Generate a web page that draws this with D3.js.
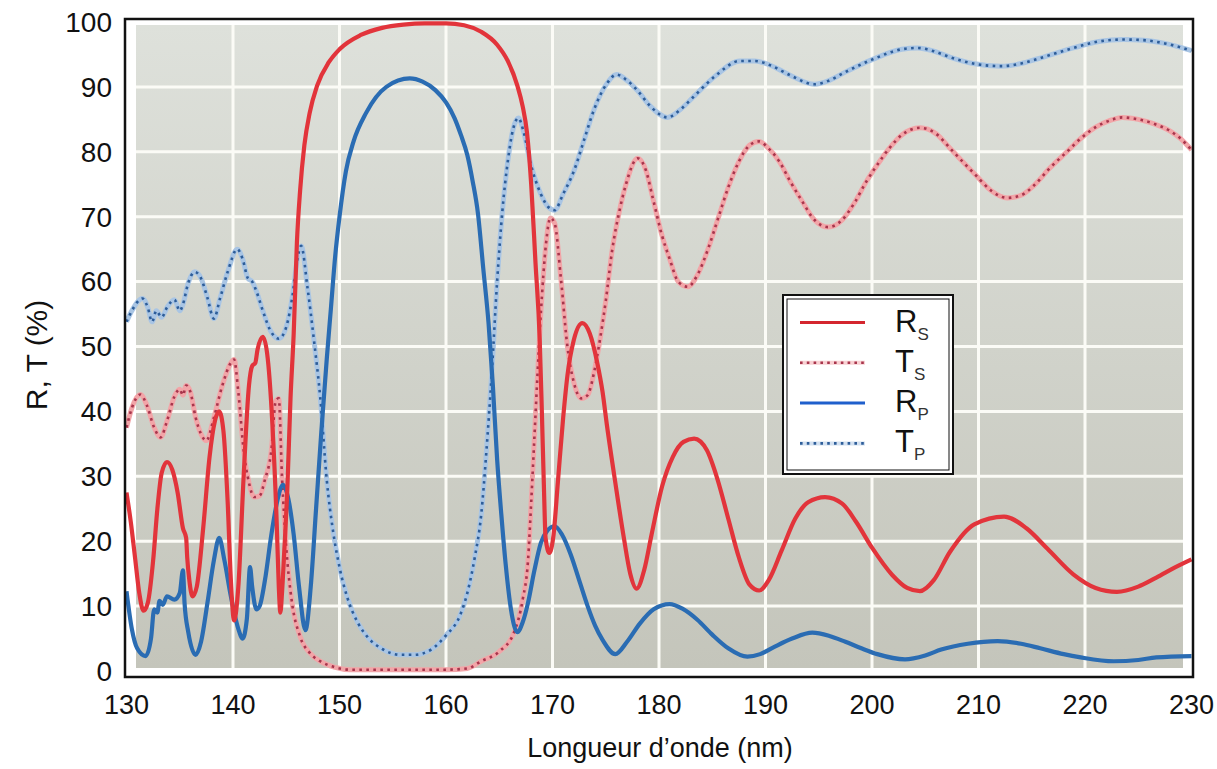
<!DOCTYPE html>
<html>
<head>
<meta charset="utf-8">
<script src="https://cdn.jsdelivr.net/npm/d3@7"></script>
<style>
  body { margin: 0; background: #fff; }
  svg { display: block; font-family: 'Liberation Sans', Arial, sans-serif; }
</style>
</head>
<body>
<svg id="chart"></svg>
<script>
// wavelength (nm), percent
const xTicks = [130, 140, 150, 160, 170, 180, 190, 200, 210, 220, 230];
const yTicks = [0, 10, 20, 30, 40, 50, 60, 70, 80, 90, 100];

const rsPoints = [
  [130.0, 27.5], [130.4, 23], [130.8, 17.5], [131.2, 12], [131.6, 9.3], [132.0, 10.5],
  [132.5, 17], [132.9, 25], [133.3, 30.5], [133.8, 32.2], [134.3, 31], [134.8, 27.5],
  [135.3, 22], [135.6, 20.5], [135.7, 17.5], [135.9, 14], [136.2, 11.5], [136.6, 13],
  [137.2, 22], [137.8, 33], [138.3, 38.5], [138.7, 40], [139.1, 37], [139.5, 26],
  [139.8, 14], [140.1, 7.8], [140.5, 13], [141.0, 30], [141.5, 44], [141.8, 47],
  [142.1, 47.5], [142.3, 49.5], [142.8, 51.5], [143.2, 49], [143.7, 38], [144.1, 23],
  [144.3, 13], [144.45, 9], [144.6, 12], [144.8, 18], [145.1, 28], [145.4, 42],
  [145.7, 52], [146.0, 66], [146.3, 74], [146.7, 81], [147.2, 86], [147.9, 90.2],
  [149.0, 93.8], [150.0, 95.8], [152.0, 98], [154.0, 99.1], [156.0, 99.6], [158.0, 99.8],
  [160.0, 99.8], [161.7, 99.5], [163.3, 98.5], [164.8, 96.5], [165.8, 94], [166.7, 90.2],
  [167.2, 87], [167.6, 83], [168.0, 75], [168.4, 63], [168.8, 51], [169.0, 40],
  [169.2, 28], [169.35, 20.5], [169.7, 18.2], [170.1, 21], [170.5, 29], [171.0, 39],
  [171.4, 45.5], [172.0, 51], [172.8, 53.6], [173.5, 52], [174.2, 47.5], [174.7, 43],
  [175.1, 38], [175.9, 29], [176.7, 20.5], [177.3, 15], [177.9, 12.7], [178.6, 15.5],
  [179.3, 21], [180.3, 28.5], [181.3, 33], [182.3, 35.3], [183.3, 35.8], [184.5, 34],
  [185.5, 29.5], [186.5, 23.5], [187.5, 17.5], [188.5, 13.3], [189.4, 12.4], [190.3, 14],
  [191.5, 18.5], [192.8, 23.5], [194.0, 26], [195.6, 26.8], [197.2, 25.8], [198.5, 23],
  [200.0, 19], [201.9, 14.8], [203.3, 12.8], [204.5, 12.3], [205.8, 14], [207.3, 18.3],
  [209.6, 22.6], [212.4, 23.8], [214.5, 22], [216.5, 18.8], [218.9, 14.9], [221.0, 12.8],
  [223.0, 12.2], [225.0, 13], [226.7, 14.4], [228.5, 16], [230.0, 17.2]
];

const tsPoints = [
  [130.0, 37.5], [130.5, 40.5], [131.3, 42.6], [131.9, 41], [132.6, 37.5], [133.2, 36],
  [133.8, 38.5], [134.5, 42.3], [135.0, 43.4], [135.3, 42.5], [135.6, 44], [136.0, 43],
  [136.5, 39], [137.0, 36.5], [137.5, 35.5], [138.2, 39], [139.0, 44], [139.8, 47.5],
  [140.1, 48], [140.5, 43], [141.0, 34], [141.5, 29], [142.0, 26.8], [142.5, 27],
  [143.0, 29.5], [143.6, 34], [144.0, 41.5], [144.3, 42], [144.6, 30], [145.0, 19],
  [145.5, 11], [146.3, 5.3], [147.2, 2.8], [148.3, 1.4], [149.5, 0.6], [151.0, 0.2],
  [160.0, 0.2], [162.0, 0.4], [163.3, 1.5], [165.0, 3.0], [166.4, 6], [167.2, 11],
  [167.7, 17], [168.0, 26], [168.3, 36], [168.9, 55], [169.4, 66], [169.8, 69.8],
  [170.2, 69], [170.8, 60.3], [171.4, 50], [172.0, 44.5], [172.7, 42], [173.3, 42.5],
  [173.9, 46], [174.5, 51.5], [175.0, 57], [175.6, 64.8], [176.3, 71], [176.9, 75],
  [178.0, 79], [178.8, 77], [179.4, 73], [180.3, 67], [181.0, 63.5], [181.8, 60],
  [182.7, 59.2], [183.6, 61], [184.6, 65], [185.5, 69.5], [186.5, 74.5], [187.5, 78.5],
  [188.5, 81], [189.4, 81.6], [190.3, 80.5], [191.3, 78.5], [192.3, 75.5], [193.4, 72.5],
  [194.6, 69.5], [195.9, 68.4], [197.2, 69.5], [198.3, 72], [199.5, 75.5], [200.5, 78],
  [201.6, 80.5], [202.8, 82.6], [204.5, 83.7], [206.0, 82.8], [207.3, 80.6], [208.5, 78.5],
  [209.8, 76.3], [211.2, 74], [212.7, 72.9], [214.0, 73.3], [215.2, 74.8], [216.7, 77.5],
  [218.3, 80], [219.7, 82.2], [221.0, 83.8], [222.3, 84.8], [223.5, 85.3], [225.0, 85],
  [226.5, 84.3], [228.0, 83.2], [229.0, 82], [230.0, 80.3]
];

const rpPoints = [
  [130.0, 12.3], [130.5, 6.5], [131.0, 3.5], [131.8, 2.3], [132.3, 5], [132.6, 9.5],
  [132.9, 9], [133.1, 10.8], [133.4, 10.2], [133.8, 11.5], [134.5, 11], [135.0, 12],
  [135.3, 15.5], [135.45, 10.5], [135.8, 6], [136.5, 2.5], [137.0, 4.5], [137.6, 10.5],
  [138.2, 17], [138.7, 20.5], [139.2, 17], [139.8, 11.5], [140.5, 6.5], [140.9, 5],
  [141.3, 8], [141.6, 16], [141.8, 13], [142.2, 9.5], [142.5, 10], [143.0, 14],
  [143.6, 21], [144.2, 26.5], [144.7, 28.7], [145.2, 26.5], [145.7, 21], [146.2, 13],
  [146.8, 6.3], [147.3, 13], [147.8, 25], [148.3, 37], [148.8, 48], [149.2, 56],
  [149.6, 64], [150.0, 70], [150.6, 77], [151.3, 81.5], [152.5, 86], [154.4, 90],
  [156.6, 91.3], [157.8, 90.8], [159.0, 89.5], [160.0, 87.6], [160.8, 85.2], [161.4, 82.6],
  [162.0, 79.5], [162.5, 75.5], [163.0, 70.5], [163.5, 62], [164.0, 53.5], [164.4, 44],
  [164.8, 32.6], [165.2, 24], [165.6, 16.5], [166.1, 9.5], [166.7, 6.0], [167.2, 7.5],
  [167.7, 10.5], [168.3, 15.5], [168.9, 19.7], [169.5, 21.6], [170.2, 22.3], [170.9, 21],
  [171.7, 18], [172.6, 13.5], [173.3, 10], [174.0, 7], [174.7, 4.8], [175.9, 2.6],
  [177.0, 4.5], [178.2, 7.3], [179.5, 9.5], [181.0, 10.3], [182.2, 9.6], [183.6, 7.9],
  [185.0, 5.6], [186.5, 3.5], [188.3, 2.2], [189.5, 2.6], [190.7, 3.6], [192.5, 5],
  [194.4, 5.9], [196.0, 5.4], [197.5, 4.5], [199.0, 3.5], [200.5, 2.6], [203.1, 1.8],
  [205.0, 2.4], [206.5, 3.3], [209.0, 4.2], [211.8, 4.6], [214.0, 4.2], [215.8, 3.5],
  [218.0, 2.6], [219.6, 2.1], [222.7, 1.5], [225.0, 1.7], [226.7, 2.1], [230.0, 2.3]
];

const tpPoints = [
  [130.0, 53.8], [130.5, 55.5], [131.5, 57.4], [132.0, 56], [132.4, 53.8], [132.8, 55.5],
  [133.3, 54.5], [133.8, 56], [134.5, 57.2], [135.0, 55.5], [135.3, 56.5], [135.8, 59.8],
  [136.4, 61.5], [137.0, 60.5], [137.6, 57.5], [138.2, 54.3], [138.8, 57.5], [139.5, 61.5],
  [140.4, 65], [140.9, 63.5], [141.4, 60.5], [141.8, 60], [142.2, 58.5], [142.8, 55.5],
  [143.5, 52.5], [144.3, 51.2], [145.0, 53], [145.6, 58], [146.0, 63], [146.4, 65.5],
  [147.0, 59], [147.6, 51], [148.2, 42], [148.8, 29.5], [149.4, 21.5], [150.0, 16],
  [150.7, 11.5], [151.7, 7.5], [152.6, 5.3], [154.0, 3.4], [155.7, 2.5], [157.0, 2.5],
  [158.6, 3.3], [160.0, 5.5], [161.3, 8.5], [162.0, 12], [162.7, 17.5], [163.3, 24],
  [163.8, 34], [164.3, 46], [164.8, 60], [165.3, 71], [165.8, 78.5], [166.3, 83.5],
  [166.8, 85.2], [167.3, 83], [167.9, 78.5], [168.9, 73.5], [169.6, 71.5], [170.2, 71],
  [171.0, 73.5], [172.0, 77], [173.0, 82], [173.9, 86.5], [175.1, 90.5], [176.0, 91.9],
  [177.0, 91], [178.0, 89.4], [179.2, 87], [180.8, 85.3], [182.0, 86.5], [183.2, 88.4],
  [185.3, 91.7], [187.6, 94], [189.0, 94], [190.5, 93.3], [192.3, 91.8], [194.6, 90.4],
  [196.0, 91], [197.4, 92.2], [200.0, 94.2], [202.8, 95.8], [204.3, 96], [205.8, 95.5],
  [207.3, 94.6], [209.5, 93.6], [212.1, 93.2], [214.0, 93.6], [215.5, 94.3], [218.9, 96],
  [221.3, 97], [223.6, 97.3], [225.5, 97.2], [227.5, 96.7], [230.0, 95.6]
];

const seriesKeys = ['Rs', 'Ts', 'Rp', 'Tp'];
const legendMain = ['R', 'T', 'R', 'T'];
const legendSub = ['S', 'S', 'P', 'P'];

class SpectrumChart {
  constructor(id) {
    this.width = 1217;
    this.height = 769;
    this.frame = {left: 125, right: 1193, top: 19, bottom: 677};
    this.svg = d3.select(id)
      .attr('width', this.width)
      .attr('height', this.height);
    this.xScale = d3.scaleLinear().domain([130, 230]).range([126.5, 1191.5]);
    this.yScale = d3.scaleLinear().domain([0, 100]).range([671, 22]);
    this.styles = {
      Rs: {color: '#e2343b', width: 4.2},
      Ts: {under: '#f2a5a8', color: '#a8354c', width: 2.6},
      Rp: {color: '#2a6cb3', width: 4.2},
      Tp: {under: '#a9c5e4', color: '#2d5d99', width: 2.6}
    };

    this.drawBackground();
    this.drawSeries();
    this.drawAxes();
    this.drawLegend();
  }

  drawBackground() {
    const grad = this.svg.append('defs').append('linearGradient')
      .attr('id', 'plotBg')
      .attr('x1', 0).attr('y1', 0).attr('x2', 0).attr('y2', 1);
    grad.append('stop').attr('offset', '0%').attr('stop-color', '#dee1db');
    grad.append('stop').attr('offset', '100%').attr('stop-color', '#c4c5bb');

    this.svg.append('rect')
      .attr('x', 136).attr('y', 25)
      .attr('width', 1183 - 136).attr('height', 668 - 25)
      .attr('fill', 'url(#plotBg)');

    const grid = this.svg.append('g');
    grid.selectAll('.vgrid')
      .data(xTicks.slice(1, -1))
      .enter()
      .append('line')
      .attr('x1', d => this.xScale(d)).attr('x2', d => this.xScale(d))
      .attr('y1', 25).attr('y2', 668)
      .attr('stroke', '#fbfbf6').attr('stroke-width', 3);
    grid.selectAll('.hgrid')
      .data(yTicks.slice(1, -1))
      .enter()
      .append('line')
      .attr('x1', 136).attr('x2', 1183)
      .attr('y1', d => this.yScale(d)).attr('y2', d => this.yScale(d))
      .attr('stroke', '#fbfbf6').attr('stroke-width', 3);
  }

  drawSeries() {
    const line = d3.line()
      .x(d => this.xScale(d[0]))
      .y(d => this.yScale(d[1]))
      .curve(d3.curveMonotoneX);
    const data = {Rs: rsPoints, Ts: tsPoints, Rp: rpPoints, Tp: tpPoints};
    const order = ['Tp', 'Ts', 'Rp', 'Rs'];
    const g = this.svg.append('g');
    order.forEach(key => {
      const st = this.styles[key];
      if (st.under) {
        g.append('path')
          .attr('d', line(data[key]))
          .attr('fill', 'none')
          .attr('stroke', st.under)
          .attr('stroke-width', 5);
        g.append('path')
          .attr('d', line(data[key]))
          .attr('fill', 'none')
          .attr('stroke', st.color)
          .attr('stroke-width', st.width)
          .attr('stroke-dasharray', '2.6,4.4');
      } else {
        g.append('path')
          .attr('d', line(data[key]))
          .attr('fill', 'none')
          .attr('stroke', st.color)
          .attr('stroke-width', st.width)
          .attr('stroke-linejoin', 'round');
      }
    });
  }

  drawAxes() {
    const f = this.frame;
    this.svg.append('rect')
      .attr('x', f.left).attr('y', f.top)
      .attr('width', f.right - f.left).attr('height', f.bottom - f.top)
      .attr('fill', 'none').attr('stroke', '#111').attr('stroke-width', 2.5);

    this.svg.append('g')
      .selectAll('text')
      .data(xTicks)
      .enter()
      .append('text')
      .attr('x', d => this.xScale(d))
      .attr('y', 714)
      .attr('text-anchor', 'middle')
      .attr('font-size', 27)
      .attr('fill', '#111')
      .text(d => d);

    this.svg.append('g')
      .selectAll('text')
      .data(yTicks)
      .enter()
      .append('text')
      .attr('x', 112)
      .attr('y', d => this.yScale(d))
      .attr('dy', '0.35em')
      .attr('text-anchor', 'end')
      .attr('font-size', 28)
      .attr('fill', '#111')
      .text(d => d);

    this.svg.append('text')
      .attr('x', 660).attr('y', 757)
      .attr('text-anchor', 'middle')
      .attr('font-size', 27)
      .attr('fill', '#111')
      .text('Longueur d\u2019onde (nm)');

    const yLabelX = 47, yLabelY = 355;
    this.svg.append('text')
      .attr('x', yLabelX).attr('y', yLabelY)
      .attr('transform', `rotate(-90, ${yLabelX}, ${yLabelY})`)
      .attr('text-anchor', 'middle')
      .attr('font-size', 30)
      .attr('fill', '#111')
      .text('R, T (%)');
  }

  drawLegend() {
    const box = {x: 783, y: 295, w: 170, h: 179};
    const lg = this.svg.append('g');
    lg.append('rect')
      .attr('x', box.x).attr('y', box.y).attr('width', box.w).attr('height', box.h)
      .attr('fill', '#fff').attr('stroke', '#111').attr('stroke-width', 2);
    lg.append('rect')
      .attr('x', box.x + 4).attr('y', box.y + 4).attr('width', box.w - 8).attr('height', box.h - 8)
      .attr('fill', 'none').attr('stroke', '#111').attr('stroke-width', 1);

    const rowY = i => 322.5 + i * 40.3;
    seriesKeys.forEach((key, i) => {
      const st = this.styles[key];
      const y = rowY(i);
      if (st.under) {
        lg.append('line')
          .attr('x1', 800).attr('x2', 865).attr('y1', y).attr('y2', y)
          .attr('stroke', st.under).attr('stroke-width', 4).attr('opacity', 0.5);
        lg.append('line')
          .attr('x1', 800).attr('x2', 865).attr('y1', y).attr('y2', y)
          .attr('stroke', st.color).attr('stroke-width', 2.6)
          .attr('stroke-dasharray', '2.6,4.2');
      } else {
        lg.append('line')
          .attr('x1', 800).attr('x2', 865).attr('y1', y).attr('y2', y)
          .attr('stroke', key === 'Rp' ? '#1f5fcc' : '#d4262e').attr('stroke-width', 3);
      }
      const t = lg.append('text')
        .attr('x', 895).attr('y', y + 9)
        .attr('font-size', 31)
        .attr('fill', '#111');
      t.append('tspan').text(legendMain[i]);
      t.append('tspan').attr('font-size', 17).attr('dy', 8).attr('fill', '#333').text(legendSub[i]);
    });
  }
}

new SpectrumChart('#chart');
</script>
</body>
</html>
